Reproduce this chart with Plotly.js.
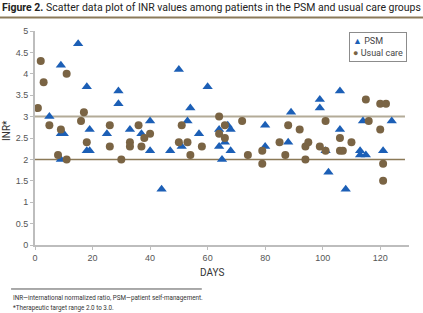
<!DOCTYPE html>
<html>
<head>
<meta charset="utf-8">
<script src="https://cdn.plot.ly/plotly-3.0.1.min.js"></script>
<style>
html,body{margin:0;padding:0;background:#fff;}
#chart{width:423px;height:313px;}
</style>
</head>
<body>
<div id="chart"></div>
<script>
// PSM group (triangles)
const psmDays = [5,9,9,10,9,15,18,19,18,19,25,29,29,33,37,40,40,44,47,50,51,53,54,57,60,64,64,65,66,67,68,68,80,80,88,89,99,99,101,102,106,106,108,113,113,114,115,121,124];
const psmINR  = [3.0,4.2,2.6,2.6,2.0,4.7,3.7,2.7,2.2,2.2,2.6,3.6,3.3,2.7,2.6,2.9,2.2,1.3,2.2,4.1,2.3,2.9,3.2,2.6,3.7,2.7,2.3,2.0,2.4,2.8,2.7,2.2,2.8,2.3,2.4,3.1,3.4,3.2,2.2,1.7,3.6,2.7,1.3,2.2,2.1,2.9,2.1,2.2,2.9];
// Usual care group (circles)
const ucDays = [1,2,3,5,8,9,11,11,16,17,18,26,26,30,33,33,36,37,38,40,50,51,53,54,58,64,64,66,66,72,74,79,79,85,87,88,92,94,94,95,99,101,101,106,106,107,110,115,116,120,122,120,121,121];
const ucINR  = [3.2,4.3,3.8,2.8,2.1,2.7,4.0,2.0,2.9,3.1,2.4,2.8,2.3,2.0,2.4,2.3,2.8,2.3,2.5,2.6,2.4,2.8,2.4,2.1,2.3,3.0,2.6,2.8,2.5,2.9,2.1,2.2,1.9,2.4,2.1,2.8,2.7,2.3,2.0,2.4,2.3,2.9,2.2,2.5,2.2,2.2,2.4,3.4,2.9,3.3,3.3,2.7,1.9,1.5];
// Target range
const targetLow = 2.0, targetHigh = 3.0;
const xTicks = [0,20,40,60,80,100,120];
const yTicks = [0,0.5,1,1.5,2,2.5,3,3.5,4,4.5,5];
const yTickText = ['0','0.5','1','1.5','2','2.5','3','3.5','4','4.5','5'];
const seriesNames = ['PSM','Usual care'];
const psmColor = '#1c5fb6', ucColor = '#7a6444';

const cond = 'Roboto, "Liberation Sans", sans-serif';
const sans = '"Liberation Sans", Arial, sans-serif';

const traces = [
  {x: psmDays, y: psmINR, type:'scatter', mode:'markers', name: seriesNames[0],
   marker:{symbol:'triangle-up', size:9, color:psmColor}},
  {x: ucDays, y: ucINR, type:'scatter', mode:'markers', name: seriesNames[1],
   marker:{symbol:'circle', size:8, color:ucColor}}
];

const legendText =
  '<span style="color:' + psmColor + '">\u25B2</span> ' + seriesNames[0] + '<br>' +
  '<span style="color:' + ucColor + '">\u25CF</span> ' + seriesNames[1];

const layout = {
  width:423, height:313,
  margin:{l:35, r:14, t:31, b:68},
  paper_bgcolor:'#fff', plot_bgcolor:'#fff',
  showlegend:false,
  xaxis:{range:[0,130], tickvals:xTicks, ticktext:xTicks.map(String),
    showgrid:false, zeroline:false, showline:true, linecolor:'#bdbdbd', linewidth:2,
    ticks:'outside', ticklen:3, tickcolor:'#bdbdbd', tickwidth:1,
    tickfont:{family:sans, size:9, color:'#555'}},
  yaxis:{range:[0,5], tickvals:yTicks, ticktext:yTickText,
    showgrid:false, zeroline:false, showline:true, linecolor:'#bdbdbd', linewidth:2,
    ticks:'outside', ticklen:3, tickcolor:'#bdbdbd', tickwidth:1,
    tickfont:{family:sans, size:9, color:'#555'}},
  shapes:[
    {type:'line', xref:'x', yref:'y', x0:0, x1:128.6, y0:targetHigh, y1:targetHigh,
     line:{color:'#b3ab98', width:2}, layer:'below'},
    {type:'line', xref:'x', yref:'y', x0:0, x1:128.6, y0:targetLow, y1:targetLow,
     line:{color:'#8b7957', width:1.5}, layer:'below'},
    {type:'line', xref:'paper', yref:'paper', x0:-0.094, x1:1.04, y0:1.063, y1:1.063,
     line:{color:'#8b7a5a', width:2}},
    {type:'line', xref:'paper', yref:'paper', x0:-0.064, x1:0.446, y0:-0.2056, y1:-0.2056,
     line:{color:'#555', width:1}}
  ],
  annotations:[
    {xref:'paper', yref:'paper', x:0.472, y:1.1075, xanchor:'center', yanchor:'middle', showarrow:false,
     text:'<b>Figure 2.</b> Scatter data plot of INR values among patients in the PSM and usual care groups',
     font:{family:cond, size:12, color:'#222'}},
    {xref:'paper', yref:'paper', x:0.473, y:-0.129, xanchor:'center', yanchor:'middle', showarrow:false,
     text:'DAYS', font:{family:cond, size:10, color:'#333'}},
    {xref:'paper', yref:'paper', x:-0.078, y:0.537, xanchor:'center', yanchor:'middle', showarrow:false,
     text:'INR*', textangle:-90, font:{family:cond, size:10, color:'#333'}},
    {xref:'paper', yref:'paper', x:-0.064, y:-0.248, xanchor:'left', yanchor:'middle', showarrow:false, align:'left',
     text:'INR\u2014international normalized ratio, PSM\u2014patient self-management.',
     font:{family:cond, size:7, color:'#333'}},
    {xref:'paper', yref:'paper', x:-0.064, y:-0.293, xanchor:'left', yanchor:'middle', showarrow:false, align:'left',
     text:'*Therapeutic target range 2.0 to 3.0.',
     font:{family:cond, size:7, color:'#333'}},
    {xref:'paper', yref:'paper', x:0.995, y:0.995, xanchor:'right', yanchor:'top', showarrow:false, align:'left',
     text:legendText, bordercolor:'#8c8c8c', borderwidth:1, borderpad:3, bgcolor:'#fff',
     font:{family:cond, size:9, color:'#444'}}
  ]
};

Plotly.newPlot('chart', traces, layout, {displayModeBar:false, staticPlot:true}).then(function(gd){
  // fit the title and first footnote to the reference widths; second footnote shares its size
  const texts = document.querySelectorAll('.annotation-text');
  const fit = function(i, target){
    const t = texts[i];
    const w = t ? t.getBBox().width : 0;
    const cur = layout.annotations[i].font.size;
    return w > 0 ? Math.round(cur * target / w * 100) / 100 : cur;
  };
  const titleSize = fit(0, 419);
  const footSize = fit(3, 190);
  const upd = {};
  upd['annotations[0].font.size'] = titleSize;
  upd['annotations[3].font.size'] = footSize;
  upd['annotations[4].font.size'] = footSize;
  return Plotly.relayout(gd, upd);
});
</script>
</body>
</html>
